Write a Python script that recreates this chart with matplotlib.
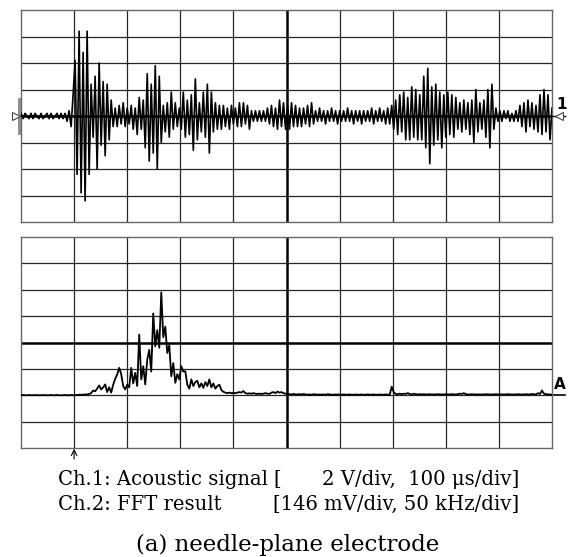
import numpy as np
import matplotlib
matplotlib.use("Agg")
import matplotlib.pyplot as plt

# Ch.1 acoustic signal, every 2 px, in tenths of a division (2 V/div)
ch1_counts = [
    1, -1, 1, 0, -1, 1, -1, 1, 0, -1,
    1, -1, 0, 1, -1, 1, -1, 0, 1, -1,
    1, -1, 1, -2, 2, -4, 8, 21, -22, 32,
    -29, 24, -32, 32, -22, 12, -8, 15, -20, 20,
    -11, 13, -15, 12, -9, 6, -4, 3, -4, 4,
    -3, 5, -4, 3, -3, 4, -5, 3, -7, 7,
    -5, 6, -12, 16, -17, 12, -14, 19, -20, 15,
    -10, 4, -6, 5, -8, 9, -5, 5, -4, 3,
    -5, 9, -8, 6, -7, 8, -13, 14, -9, 5,
    -6, 9, -8, 12, -14, 9, -6, 5, -5, 4,
    -5, 4, -4, 3, -5, 4, -3, 3, -4, 5,
    -4, 5, -3, 4, -5, 2, -2, 2, -2, 2,
    -2, 2, -2, 3, -3, 4, -4, 3, -5, 6,
    -4, 5, -5, 4, -5, 5, -4, 4, -4, 3,
    -4, 3, -3, 4, -4, 5, -3, 2, -2, 3,
    -2, 2, -3, 2, -2, 3, -2, 2, -3, 2,
    -2, 2, -2, 3, -2, 2, -3, 2, -2, 2,
    -3, 2, -2, 2, -2, 3, -3, 2, -2, 3,
    -2, 2, -3, 3, -3, 4, -5, 6, -7, 8,
    -6, 9, -9, 7, -9, 11, -8, 10, -9, 8,
    -9, 15, -12, 18, -18, 11, -11, 12, -9, 9,
    -12, 8, -8, 9, -7, 8, -8, 7, -5, 5,
    -6, 6, -5, 5, -7, 6, -10, 10, -6, 5,
    -5, 6, -8, 10, -12, 12, -5, 3, -2, 2,
    -2, 2, -1, 2, -2, 1, -2, 2, -2, 4,
    -4, 5, -6, 6, -4, 5, -5, 4, -6, 8,
    -7, 10, -6, 8, -9, 3,
]

# Ch.2 FFT result, same 2 px steps, in hundredths of a division above the FFT zero line
fft_counts = [
    0, 1, 0, 0, 1, 0, 0, 1, 0, 0,
    0, 1, 0, 0, 0, 1, 0, 0, 1, 0,
    0, 0, 1, 0, 0, 1, 0, 1, 1, 2,
    2, 2, 3, 3, 5, 8, 18, 15, 25, 37,
    22, 30, 41, 12, 30, 10, 40, 62, 79, 104,
    80, 35, 22, 40, 30, 104, 45, 85, 35, 230,
    60, 110, 41, 135, 172, 90, 310, 185, 247, 180,
    390, 220, 260, 160, 190, 72, 122, 47, 80, 60,
    110, 90, 91, 40, 25, 60, 35, 50, 55, 30,
    45, 28, 50, 35, 60, 30, 45, 25, 35, 40,
    20, 13, 10, 8, 10, 8, 9, 8, 10, 12,
    10, 16, 8, 6, 7, 6, 8, 6, 5, 6,
    5, 6, 8, 6, 5, 10, 12, 8, 14, 10,
    12, 8, 6, 4, 4, 3, 5, 3, 3, 4,
    3, 5, 3, 2, 3, 2, 4, 3, 2, 3,
    2, 3, 2, 4, 3, 2, 2, 3, 2, 3,
    2, 3, 2, 2, 3, 2, 2, 3, 2, 2,
    3, 2, 2, 3, 2, 2, 3, 2, 2, 3,
    2, 2, 3, 2, 2, 32, 12, 5, 4, 6,
    4, 6, 5, 8, 5, 3, 6, 4, 3, 4,
    3, 4, 3, 3, 4, 3, 3, 3, 4, 3,
    3, 3, 4, 3, 3, 4, 3, 3, 4, 6,
    5, 8, 4, 3, 3, 4, 3, 3, 3, 3,
    3, 3, 4, 3, 3, 3, 3, 4, 3, 3,
    3, 3, 3, 4, 3, 3, 3, 3, 4, 3,
    3, 3, 4, 3, 3, 5, 4, 3, 8, 5,
    18, 6, 4, 3, 3, 2,
]

VOLT_PER_DIV = 2.0
US_PER_DIV = 100.0
MV_PER_DIV = 146.0
KHZ_PER_DIV = 50.0
FFT_ZERO_DIV = -2.0   # FFT zero sits two divisions under the centre line
KHZ_START = -50.0     # arrow under the screen marks 0 kHz, one division in

W, H = 568, 557
GRID = "#262626"
SERIF = "DejaVu Serif"


def fig_box(left, top, right, bottom):
    return [left / W, 1 - bottom / H, (right - left) / W, (bottom - top) / H]


def draw_screen(ax, x0, xdiv, ydiv):
    ax.set_xlim(x0, x0 + 10 * xdiv)
    ax.set_ylim(-4 * ydiv, 4 * ydiv)
    for i in range(1, 10):
        ax.axvline(x0 + i * xdiv, color=GRID if i != 5 else "black",
                   lw=0.9 if i != 5 else 1.8, zorder=1)
    for j in range(-3, 4):
        ax.axhline(j * ydiv, color=GRID if j != 0 else "black",
                   lw=0.9 if j != 0 else 1.8, zorder=1)
    ax.set_xticks([])
    ax.set_yticks([])
    for s in ax.spines.values():
        s.set_color("#666666")
        s.set_linewidth(1.0)


fig = plt.figure(figsize=(W / 100, H / 100), dpi=100)

# ---- Ch.1: acoustic signal ----
ax1 = fig.add_axes(fig_box(21, 10, 552, 222))
draw_screen(ax1, 0, US_PER_DIV, VOLT_PER_DIV)
ch1_v = np.array(ch1_counts) * 0.1 * VOLT_PER_DIV
t_us = np.linspace(0, 10 * US_PER_DIV, len(ch1_v))
ax1.plot(t_us, ch1_v, color="black", lw=1.2, zorder=3)

# channel markers at the edges of the screen
ax1.plot([-0.03 * US_PER_DIV] * 2, [-0.64 * VOLT_PER_DIV, 0.64 * VOLT_PER_DIV],
         color="#888888", lw=2.0, clip_on=False, zorder=4)
ax1.plot(-0.10 * US_PER_DIV, 0, marker=">", ms=6, mfc="white", mec="#444444",
         mew=0.8, clip_on=False, zorder=5)
ax1.plot([10 * US_PER_DIV, 10.25 * US_PER_DIV], [0, 0], color="black", lw=1.0,
         clip_on=False, zorder=4)
ax1.plot(10.14 * US_PER_DIV, 0, marker="<", ms=6, mfc="white", mec="#444444",
         mew=0.8, clip_on=False, zorder=5)
ax1.text(10.18 * US_PER_DIV, 0.45 * VOLT_PER_DIV, "1", fontsize=11, fontweight="bold",
         ha="center", va="center", family="DejaVu Sans")

# ---- Ch.2: FFT result ----
ax2 = fig.add_axes(fig_box(21, 237, 552, 448))
draw_screen(ax2, KHZ_START, KHZ_PER_DIV, MV_PER_DIV)
fft_mv = np.array(fft_counts) * 0.01 * MV_PER_DIV
f_khz = np.linspace(KHZ_START, KHZ_START + 10 * KHZ_PER_DIV, len(fft_mv))
ax2.plot(f_khz, fft_mv + FFT_ZERO_DIV * MV_PER_DIV, color="black", lw=1.3, zorder=3)

x_end = KHZ_START + 10 * KHZ_PER_DIV
ax2.plot([x_end, x_end + 0.25 * KHZ_PER_DIV], [FFT_ZERO_DIV * MV_PER_DIV] * 2,
         color="black", lw=1.2, clip_on=False)
ax2.text(x_end + 0.14 * KHZ_PER_DIV, (FFT_ZERO_DIV + 0.42) * MV_PER_DIV, "A",
         fontsize=11, fontweight="bold", ha="center", va="center", family="DejaVu Sans")
ax2.annotate("", xy=(0, -4.03 * MV_PER_DIV), xytext=(0, -4.42 * MV_PER_DIV),
             arrowprops=dict(arrowstyle="->", color="black", lw=0.8,
                             shrinkA=0, shrinkB=0), annotation_clip=False)

# ---- caption ----
renderer = fig.canvas.get_renderer()


def put(x, y_base, s, size, ha="left"):
    return fig.text(x / W, 1 - y_base / H, s, family=SERIF, fontsize=size,
                    va="baseline", ha=ha)


def fit_size(s, width, size0=12):
    t = put(0, 0, s, size0)
    w = t.get_window_extent(renderer).width
    t.remove()
    return size0 * width / w


cap = fit_size("Ch.1: Acoustic signal", 267 - 58)
put(58, 485, "Ch.1: Acoustic signal", cap)
put(273, 485, "[", cap)
put(519, 485, "2 V/div,  100 \u03bcs/div]", cap, ha="right")
put(58, 510, "Ch.2: FFT result", cap)
put(519, 510, "[146 mV/div, 50 kHz/div]", cap, ha="right")

title = fit_size("(a) needle-plane electrode", 440 - 136)
put(136, 551, "(a) needle-plane electrode", title)

fig.savefig("out.png", dpi=100, facecolor="white")
